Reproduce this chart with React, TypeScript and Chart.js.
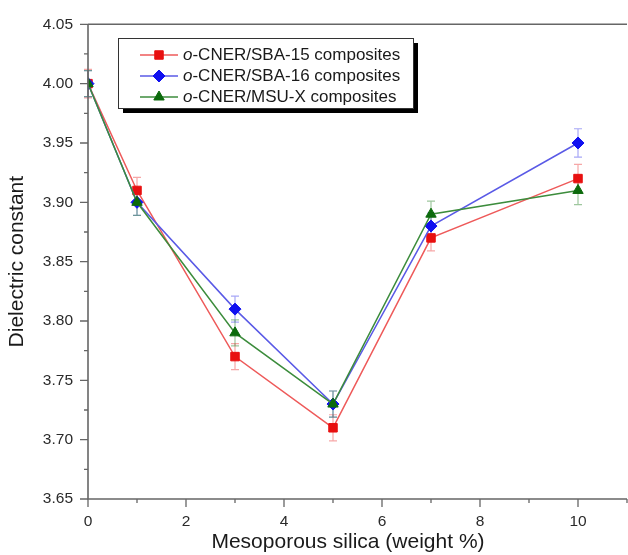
import React, { useEffect, useRef } from 'react';
import { Chart, registerables } from 'chart.js';

Chart.register(...registerables);

// ---- data ----
const weightPercent = [0, 1, 3, 5, 7, 10];
const sba15Values = [4.0, 3.91, 3.77, 3.71, 3.87, 3.92];
const sba16Values = [4.0, 3.9, 3.81, 3.73, 3.88, 3.95];
const msuxValues = [4.0, 3.9, 3.79, 3.73, 3.89, 3.91];
const sba15Errors = [0.012, 0.011, 0.011, 0.011, 0.011, 0.012];
const sba16Errors = [0.011, 0.011, 0.011, 0.011, 0.011, 0.012];
const msuxErrors = [0.011, 0.011, 0.011, 0.011, 0.011, 0.012];
const seriesLabels = ['o-CNER/SBA-15 composites', 'o-CNER/SBA-16 composites', 'o-CNER/MSU-X composites'];
const xAxisTitle = 'Mesoporous silica (weight %)';
const yAxisTitle = 'Dielectric constant';
const xMajorTicks = [0, 2, 4, 6, 8, 10];
const xMinorTicks = [1, 3, 5, 7, 9, 11];
const yMajorTicks = [3.65, 3.7, 3.75, 3.8, 3.85, 3.9, 3.95, 4.0, 4.05];
const yMinorTicks = [3.675, 3.725, 3.775, 3.825, 3.875, 3.925, 3.975, 4.025];

const FONT = '"Liberation Sans", Arial, Helvetica, sans-serif';
const AXIS_COLOR = '#666666';

const styles = [
  { line: '#ee5a5a', fill: '#e81010', err: 'rgba(235,60,60,0.45)', point: 'rect', radius: 6 },
  { line: '#5a5ae6', fill: '#1010f0', err: 'rgba(60,60,235,0.45)', point: 'rectRot', radius: 6 },
  { line: '#3c8c3c', fill: '#0c6a0c', err: 'rgba(40,130,40,0.45)', point: 'triangle', radius: 6 },
];

const seriesValues = [sba15Values, sba16Values, msuxValues];
const seriesErrors = [sba15Errors, sba16Errors, msuxErrors];

function drawMarker(ctx: CanvasRenderingContext2D, style: string, x: number, y: number, r: number) {
  ctx.beginPath();
  if (style === 'rect') {
    const s = Math.SQRT1_2 * r;
    ctx.rect(x - s, y - s, 2 * s, 2 * s);
  } else if (style === 'rectRot') {
    ctx.moveTo(x, y - r);
    ctx.lineTo(x + r, y);
    ctx.lineTo(x, y + r);
    ctx.lineTo(x - r, y);
    ctx.closePath();
  } else {
    const a = Math.PI / 3;
    ctx.moveTo(x, y - r);
    ctx.lineTo(x + Math.sin(2 * a) * r, y + Math.cos(a) * r);
    ctx.lineTo(x - Math.sin(2 * a) * r, y + Math.cos(a) * r);
    ctx.closePath();
  }
  ctx.fill();
  ctx.stroke();
}

const decorPlugin = {
  id: 'decor',
  beforeDatasetsDraw(chart: any) {
    const ctx = chart.ctx;
    const xs = chart.scales.x;
    const ys = chart.scales.y;
    chart.data.datasets.forEach((ds: any) => {
      ctx.save();
      ctx.strokeStyle = ds.errColor;
      ctx.lineWidth = 1.2;
      ds.data.forEach((p: any, i: number) => {
        const e = ds.errors[i];
        const x = xs.getPixelForValue(p.x);
        const yt = ys.getPixelForValue(p.y + e);
        const yb = ys.getPixelForValue(p.y - e);
        ctx.beginPath();
        ctx.moveTo(x, yt);
        ctx.lineTo(x, yb);
        ctx.moveTo(x - 4, yt);
        ctx.lineTo(x + 4, yt);
        ctx.moveTo(x - 4, yb);
        ctx.lineTo(x + 4, yb);
        ctx.stroke();
      });
      ctx.restore();
    });
  },
  afterDraw(chart: any) {
    const ctx = chart.ctx;
    const xs = chart.scales.x;
    const ys = chart.scales.y;
    const { left, right, top, bottom } = chart.chartArea;
    ctx.save();
    // frame lines
    ctx.strokeStyle = AXIS_COLOR;
    ctx.lineWidth = 1.6;
    ctx.beginPath();
    ctx.moveTo(left, top);
    ctx.lineTo(right, top);
    ctx.moveTo(left, top);
    ctx.lineTo(left, bottom);
    ctx.lineTo(right, bottom);
    ctx.stroke();
    // ticks
    ctx.lineWidth = 1.3;
    ctx.beginPath();
    yMajorTicks.forEach((v) => {
      const y = ys.getPixelForValue(v);
      ctx.moveTo(left - 8, y);
      ctx.lineTo(left, y);
    });
    yMinorTicks.forEach((v) => {
      const y = ys.getPixelForValue(v);
      ctx.moveTo(left - 4, y);
      ctx.lineTo(left, y);
    });
    xMajorTicks.forEach((v) => {
      const x = xs.getPixelForValue(v);
      ctx.moveTo(x, bottom);
      ctx.lineTo(x, bottom + 8);
    });
    xMinorTicks.forEach((v) => {
      const x = xs.getPixelForValue(v);
      ctx.moveTo(x, bottom);
      ctx.lineTo(x, bottom + 4);
    });
    ctx.stroke();

    // axis titles
    ctx.fillStyle = '#1a1a1a';
    ctx.font = `21px ${FONT}`;
    ctx.textAlign = 'center';
    ctx.textBaseline = 'middle';
    ctx.save();
    ctx.translate(17, (top + bottom) / 2);
    ctx.rotate(-Math.PI / 2);
    ctx.fillText(yAxisTitle, 0, 0);
    ctx.restore();
    ctx.fillText(xAxisTitle, 348, 542);

    // legend
    const bx = 118, by = 38, bw = 295, bh = 70;
    ctx.fillStyle = '#000';
    ctx.fillRect(bx + 5, by + 5, bw, bh);
    ctx.fillStyle = '#fff';
    ctx.fillRect(bx, by, bw, bh);
    ctx.strokeStyle = '#333';
    ctx.lineWidth = 1;
    ctx.strokeRect(bx + 0.5, by + 0.5, bw, bh);
    const rows = [55, 76, 97];
    chart.data.datasets.forEach((ds: any, i: number) => {
      const y = rows[i];
      ctx.strokeStyle = ds.borderColor;
      ctx.lineWidth = 1.5;
      ctx.beginPath();
      ctx.moveTo(140, y);
      ctx.lineTo(178, y);
      ctx.stroke();
      ctx.fillStyle = ds.pointBackgroundColor;
      ctx.strokeStyle = ds.pointBorderColor;
      ctx.lineWidth = 1;
      drawMarker(ctx, ds.pointStyle, 159, y, ds.pointRadius);
      const label: string = ds.label;
      ctx.fillStyle = '#1a1a1a';
      ctx.textAlign = 'left';
      ctx.textBaseline = 'middle';
      ctx.font = `italic 17px ${FONT}`;
      ctx.fillText(label.charAt(0), 183, y);
      const w = ctx.measureText(label.charAt(0)).width;
      ctx.font = `17px ${FONT}`;
      ctx.fillText(label.slice(1), 183 + w, y);
    });
    ctx.restore();
  },
};

export default function App() {
  const canvasRef = useRef<HTMLCanvasElement | null>(null);

  useEffect(() => {
    const canvas = canvasRef.current;
    if (!canvas) return;
    const datasets = seriesValues.map((vals, i) => ({
      label: seriesLabels[i],
      data: weightPercent.map((x, j) => ({ x, y: vals[j] })),
      errors: seriesErrors[i],
      errColor: styles[i].err,
      borderColor: styles[i].line,
      borderWidth: 1.5,
      pointStyle: styles[i].point,
      pointRadius: styles[i].radius,
      pointBackgroundColor: styles[i].fill,
      pointBorderColor: styles[i].fill,
      pointBorderWidth: 1,
      tension: 0,
      fill: false,
      clip: 0,
      order: 3 - i,
    }));
    const chart = new Chart(canvas, {
      type: 'line',
      data: { datasets: datasets as any },
      options: {
        animation: false,
        responsive: false,
        devicePixelRatio: 1,
        layout: { padding: { left: 0, top: 23, right: 8.6, bottom: 0 } },
        plugins: { legend: { display: false }, tooltip: { enabled: false } },
        scales: {
          x: {
            type: 'linear',
            min: 0,
            max: 11,
            afterFit: (s: any) => { s.height = 56; },
            grid: { display: false, drawTicks: false },
            border: { display: false },
            ticks: {
              stepSize: 1,
              padding: 13,
              color: '#2a2a2a',
              font: { family: FONT, size: 15.5 },
              maxRotation: 0,
              callback: (v: any) => (xMajorTicks.includes(Number(v)) ? String(v) : ''),
            },
          },
          y: {
            type: 'linear',
            min: 3.65,
            max: 4.05,
            afterFit: (s: any) => { s.width = 88; },
            grid: { display: false, drawTicks: false },
            border: { display: false },
            ticks: {
              stepSize: 0.05,
              padding: 15,
              color: '#2a2a2a',
              font: { family: FONT, size: 15.5 },
              callback: (v: any) => Number(v).toFixed(2),
            },
          },
        },
      },
      plugins: [decorPlugin],
    });
    return () => chart.destroy();
  }, []);

  return (
    <div style={{ position: 'fixed', left: 0, top: 0, width: 628, height: 555, overflow: 'hidden', background: '#fff' }}>
      <canvas ref={canvasRef} width={640} height={555} style={{ display: 'block' }} />
    </div>
  );
}
